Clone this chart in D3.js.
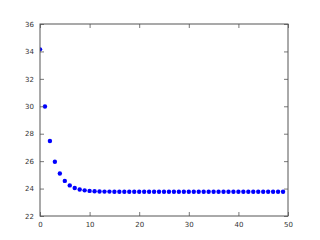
<!DOCTYPE html>
<html>
<head>
<meta charset="utf-8">
<script src="https://cdn.jsdelivr.net/npm/d3@7"></script>
<style>
  body { margin: 0; background: #fff; }
  svg { display: block; }
  text { font-family: "DejaVu Sans", sans-serif; font-size: 7px; fill: #333; }
</style>
</head>
<body>
<div id="app"></div>
<script>
const xs = d3.range(0, 50)
const ys = [34.15, 29.98, 27.47, 25.96, 25.1, 24.56, 24.23, 24.04, 23.93, 23.87,
            23.83, 23.81, 23.79, 23.78, 23.78, 23.77, 23.77, 23.77, 23.77, 23.77,
            23.77, 23.77, 23.77, 23.77, 23.77, 23.77, 23.77, 23.77, 23.77, 23.77,
            23.77, 23.77, 23.77, 23.77, 23.77, 23.77, 23.77, 23.77, 23.77, 23.77,
            23.77, 23.77, 23.77, 23.77, 23.77, 23.77, 23.77, 23.77, 23.77, 23.77]
const xTicks = [0, 10, 20, 30, 40, 50]
const yTicks = [22, 24, 26, 28, 30, 32, 34, 36]

const width = 320
const height = 240
const margin = {top: 24, right: 32, bottom: 24, left: 40}

const svg = d3.select('#app').append('svg')
    .attr('width', width)
    .attr('height', height)

const x = d3.scaleLinear().domain([0, 50]).range([margin.left, width - margin.right])
const y = d3.scaleLinear().domain([22, 36]).range([height - margin.bottom, margin.top])

svg.append('clipPath').attr('id', 'clip')
  .append('rect')
    .attr('x', margin.left).attr('y', margin.top)
    .attr('width', width - margin.left - margin.right)
    .attr('height', height - margin.top - margin.bottom)

// points
svg.append('g').attr('clip-path', 'url(#clip)')
  .selectAll('circle')
  .data(ys)
  .join('circle')
    .attr('cx', (d, i) => x(xs[i]))
    .attr('cy', d => y(d))
    .attr('r', 2.2)
    .attr('fill', '#0000ff')

// ticks on all four sides, pointing inward
const tick = 4
const axisStyle = g => {
  g.select('.domain').remove()
  g.selectAll('.tick line').attr('stroke', '#555').attr('stroke-width', 0.8)
}
svg.append('g')
    .attr('transform', `translate(0,${height - margin.bottom})`)
    .call(d3.axisBottom(x).tickValues(xTicks).tickSizeInner(-tick).tickSizeOuter(0).tickPadding(6))
    .call(axisStyle)
svg.append('g')
    .attr('transform', `translate(0,${margin.top})`)
    .call(d3.axisTop(x).tickValues(xTicks).tickSizeInner(-tick).tickSizeOuter(0).tickFormat(''))
    .call(axisStyle)
svg.append('g')
    .attr('transform', `translate(${margin.left},0)`)
    .call(d3.axisLeft(y).tickValues(yTicks).tickSizeInner(-tick).tickSizeOuter(0).tickPadding(6))
    .call(axisStyle)
svg.append('g')
    .attr('transform', `translate(${width - margin.right},0)`)
    .call(d3.axisRight(y).tickValues(yTicks).tickSizeInner(-tick).tickSizeOuter(0).tickFormat(''))
    .call(axisStyle)
svg.selectAll('.tick text').attr('font-size', 7).attr('fill', '#333')

// frame
svg.append('rect')
    .attr('x', margin.left).attr('y', margin.top)
    .attr('width', width - margin.left - margin.right)
    .attr('height', height - margin.top - margin.bottom)
    .attr('fill', 'none')
    .attr('stroke', '#555')
    .attr('stroke-width', 1)
</script>
</body>
</html>
